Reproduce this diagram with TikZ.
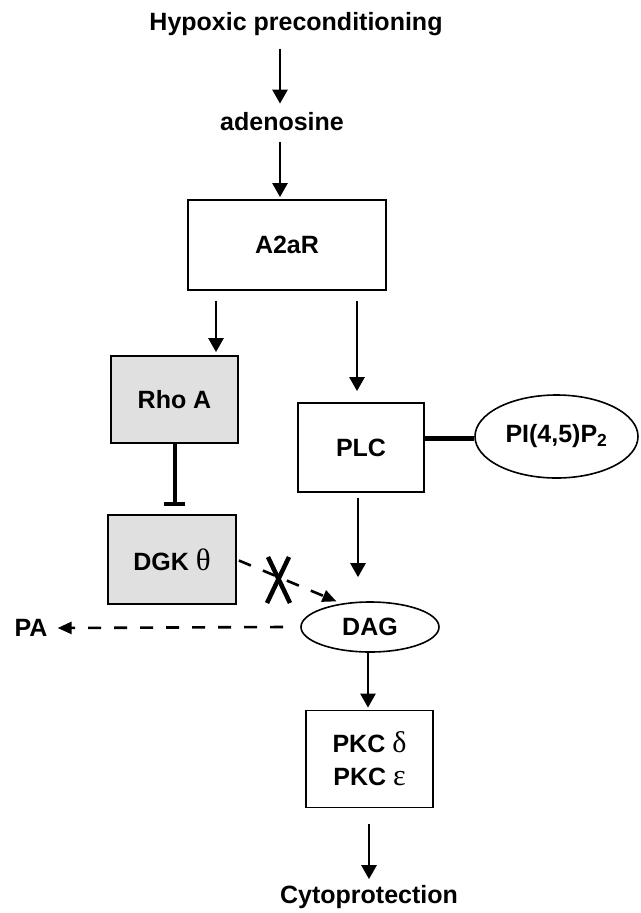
\documentclass[tikz,border=0pt]{standalone}
\usepackage{fontspec}
\setmainfont{Liberation Sans}
\newfontfamily\grk{Liberation Serif}
\usetikzlibrary{arrows.meta,shapes.geometric,calc}
\begin{document}
\begin{tikzpicture}[x=1pt,y=-1pt,
  lbl/.style={font=\fontsize{25}{30}\selectfont\bfseries, inner sep=0pt},
  boxnode/.style={draw, line width=1.8pt, inner sep=0pt, font=\fontsize{25}{33}\selectfont\bfseries, align=center},
  greybox/.style={boxnode, fill=black!12},
  ellnode/.style={ellipse, draw, line width=1.6pt, inner sep=0pt, font=\fontsize{25}{30}\selectfont\bfseries},
  arr/.style={line width=2.6pt, -{Triangle[length=14pt,width=15pt]}},
  darr/.style={line width=2.6pt, dash pattern=on 13pt off 13pt, -{Triangle[length=14pt,width=12pt]}},
  inhib/.style={line width=4pt, -{Bar[width=21pt,line width=4.5pt]}}
]
\useasboundingbox (0,0) rectangle (640,913);
\fill[white] (0,0) rectangle (640,913);

\node[lbl] (hyp) at (296,24) {Hypoxic preconditioning};
\node[lbl] (ade) at (282,122) {adenosine};
\node[boxnode, minimum width=198pt, minimum height=90pt] (a2a) at (287,245) {A2aR};
\node[greybox, minimum width=127pt, minimum height=87pt] (rho) at (174.5,399.5) {Rho A};
\node[boxnode, minimum width=126pt, minimum height=89pt] (plc) at (361,447.5) {PLC};
\node[ellnode, minimum width=163pt, minimum height=83pt] (pip) at (556.5,436.5) {PI(4,5)P\textsubscript{2}};
\node[greybox, minimum width=128pt, minimum height=89pt] (dgk) at (172,559.5) {DGK {\mdseries\grk\fontsize{31}{31}\selectfont θ}};
\node[ellnode, minimum width=138pt, minimum height=50pt] (dag) at (370,627) {DAG};
\node[lbl] (pa) at (31,628) {PA};
\node[boxnode, minimum width=127pt, minimum height=97pt] (pkc) at (369.5,759) {PKC {\mdseries\grk\fontsize{30}{30}\selectfont δ}\\PKC {\mdseries\grk\fontsize{30}{30}\selectfont ε}};
\node[lbl] (cyto) at (369,897) {Cytoprotection};

% arrows
\draw[arr] ($(hyp.south -| 280,0)+(0,13)$) -- ($(ade.north -| 280,0)+(0,-9)$);
\draw[arr] ($(ade.south -| 280,0)+(0,11)$) -- ($(a2a.north -| 280,0)+(0,-2)$);
\draw[arr] ($(a2a.south -| 216,0)+(0,10)$) -- ($(rho.north -| 216,0)+(0,-3)$);
\draw[arr] ($(a2a.south -| 357,0)+(0,10)$) -- ($(plc.north -| 357,0)+(0,-11)$);
\draw[inhib] (rho.south) -- ($(dgk.north -| rho.south)+(0,-8)$);
\draw[line width=5pt] ($(plc.east |- pip.west)+(0,2)$) -- ($(pip.west)+(0,2)$);
\draw[arr] ($(plc.south -| 358,0)+(0,5)$) -- ($(dag.north -| 358,0)+(0,-24)$);
\draw[darr] ($(dgk.east)+(2,1)$) -- ($(dag.146)+(0,-3)$);
\draw[line width=4.5pt] (268,557) -- (290,603);
\draw[line width=4.5pt] (289,557) -- (267,603);
\draw[darr] ($(dag.west)+(-17,0)$) -- ($(pa.east)+(10,0)$);
\draw[arr] ($(dag.south -| 368,0)$) -- ($(pkc.north -| 368,0)+(0,-2)$);
\draw[arr] ($(pkc.south -| 369,0)+(0,16)$) -- ($(cyto.north -| 369,0)+(0,-6)$);
\end{tikzpicture}
\end{document}
